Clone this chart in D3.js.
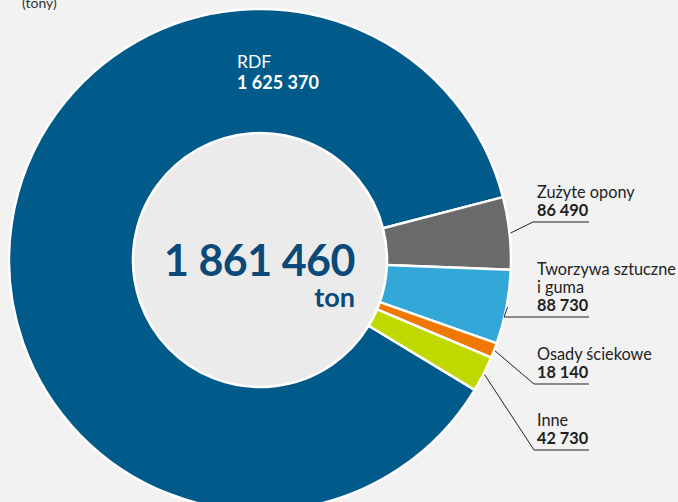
<!DOCTYPE html>
<html lang="pl">
<head>
<meta charset="utf-8" />
<title>Paliwa alternatywne (tony)</title>
<script src="https://cdnjs.cloudflare.com/ajax/libs/d3/7.8.5/d3.min.js"></script>
<style>
html, body {
  margin: 0;
  padding: 0;
  background: #f2f2f2;
}
svg text {
  font-family: Lato, "Open Sans", sans-serif;
}
</style>
</head>
<body>
<svg id="chart" width="678" height="502"></svg>
<script>

// dane (tony)
var categories = ["RDF", "Zużyte opony", "Tworzywa sztuczne\ni guma", "Osady ściekowe", "Inne"];
var values = [1625370, 86490, 88730, 18140, 42730];
var colors = ["#005a8a", "#6a6a6a", "#33a7d7", "#f07800", "#bfd800"];
var totalLabel = "1 861 460";
var unitLabel = "ton";

var width = 678, height = 502;
var cx = 260, cy = 260;
var rOuter = 251, rInner = 127;

var svg = d3.select("#chart");

svg.append("rect")
  .attr("width", width)
  .attr("height", height)
  .attr("fill", "#f2f2f2");

svg.append("text")
  .attr("x", 22)
  .attr("y", 8)
  .attr("font-size", 14)
  .attr("fill", "#333")
  .text("(tony)");

var fmt = function(v) {
  return d3.format(",")(v).replace(/,/g, " ");
};

var total = d3.sum(values);
// RDF kończy się na ok. 75.5 stopnia (od godz. 12)
var endRdf = 75.5 * Math.PI / 180;
var start = endRdf - values[0] / total * 2 * Math.PI;

var pie = d3.pie()
  .sort(null)
  .value(function(d) { return d; })
  .startAngle(start)
  .endAngle(start + 2 * Math.PI);

var arcs = pie(values);

var arc = d3.arc()
  .innerRadius(rInner)
  .outerRadius(rOuter);

var g = svg.append("g")
  .attr("transform", "translate(" + cx + "," + cy + ")");

// wewnętrzne koło
g.append("circle")
  .attr("r", rInner - 1)
  .attr("fill", "#ebebeb");

g.selectAll("path.slice")
  .data(arcs)
  .enter()
  .append("path")
  .attr("class", "slice")
  .attr("d", arc)
  .attr("fill", function(d, i) { return colors[i]; })
  .attr("stroke", "white")
  .attr("stroke-width", 2.5)
  .attr("stroke-linejoin", "round");

// etykieta RDF wewnątrz
svg.append("text")
  .attr("x", 237)
  .attr("y", 68)
  .attr("font-size", 17.5)
  .attr("fill", "white")
  .text(categories[0]);
svg.append("text")
  .attr("x", 237)
  .attr("y", 89)
  .attr("font-size", 18)
  .attr("font-weight", "bold")
  .attr("fill", "white")
  .text(fmt(values[0]));

// suma w środku
svg.append("text")
  .attr("x", 355)
  .attr("y", 276)
  .attr("text-anchor", "end")
  .attr("font-size", 43)
  .attr("font-weight", "bold")
  .attr("fill", "#0b4a78")
  .attr("letter-spacing", -0.5)
  .text(totalLabel);
svg.append("text")
  .attr("x", 355)
  .attr("y", 307)
  .attr("text-anchor", "end")
  .attr("font-size", 27)
  .attr("font-weight", "bold")
  .attr("fill", "#0b4a78")
  .text(unitLabel);

// etykiety zewnętrzne
var labelX = 537;
var lineEnd = 589;
var labelTop = [198, 275, 360, 426];
var lineStartX = [533, 504, 534, 534];

for (var i = 1; i < values.length; i++) {
  var lines = categories[i].split("\n");
  var y0 = labelTop[i - 1];
  var t = svg.append("text")
    .attr("font-size", 16.3)
    .attr("fill", "#222");
  lines.forEach(function(l, j) {
    t.append("tspan")
      .attr("x", labelX)
      .attr("y", y0 + j * 18)
      .text(l);
  });
  var yv = y0 + lines.length * 18;
  svg.append("text")
    .attr("x", labelX)
    .attr("y", yv)
    .attr("font-size", 16.3)
    .attr("font-weight", "bold")
    .attr("fill", "#222")
    .text(fmt(values[i]));

  // linia odniesienia
  var a = arcs[i];
  var mid = (a.startAngle + a.endAngle) / 2;
  var px = cx + Math.sin(mid) * (rOuter + 1);
  var py = cy - Math.cos(mid) * (rOuter + 1);
  var uy = yv + 6;
  var sx = lineStartX[i - 1];
  svg.append("path")
    .attr("d", "M" + px + "," + py + "L" + sx + "," + uy + "L" + lineEnd + "," + uy)
    .attr("fill", "none")
    .attr("stroke", "#222")
    .attr("stroke-width", 1);
}
</script>
</body>
</html>
